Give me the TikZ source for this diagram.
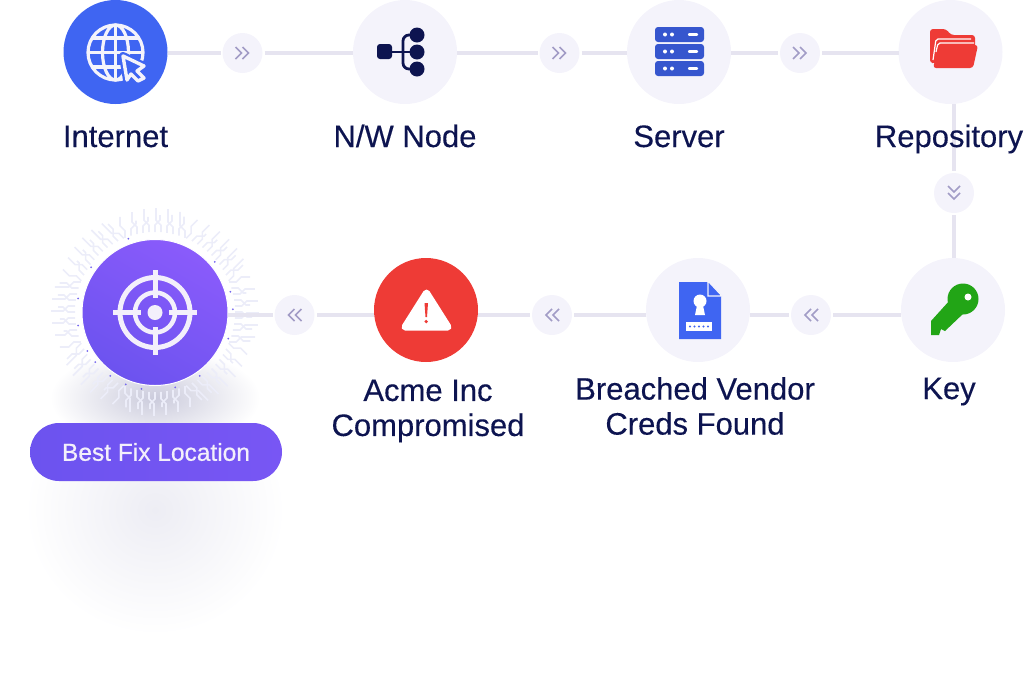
\documentclass[tikz,border=0pt]{standalone}
\usepackage{fontspec}
\setmainfont{Liberation Sans}
\newfontfamily\lblfont[FakeBold=0.3]{Liberation Sans}
\newfontfamily\fixfont[FakeBold=0.7]{Liberation Sans}
\usetikzlibrary{shapes.misc}
\definecolor{inkblue}{HTML}{0D1450}
\definecolor{railgrey}{HTML}{E6E4F0}
\definecolor{discfill}{HTML}{F4F3FB}
\definecolor{chevgrey}{HTML}{A29CC6}
\definecolor{netblue}{HTML}{3F65F2}
\definecolor{alertred}{HTML}{EE3B36}
\definecolor{keygreen}{HTML}{22A516}
\definecolor{fixhi}{HTML}{8A5BFB}
\definecolor{fixlo}{HTML}{6C53EF}
\definecolor{paper}{HTML}{F3EFFB}
\definecolor{traceline}{HTML}{ECEDF9}
\definecolor{hazegrey}{HTML}{EDEDF4}
\definecolor{shadowgrey}{HTML}{CBCBDC}
\definecolor{sparkblue}{HTML}{7668EE}
\tikzset{
  disc/.style={draw=none,circle,minimum size=104pt,inner sep=0pt,outer sep=0pt,fill=discfill},
  hop/.style={draw=none,circle,minimum size=40pt,inner sep=0pt,outer sep=2pt,fill=discfill},
  lbl/.style={font=\lblfont\fontsize{31}{35}\selectfont,text=inkblue,inner sep=0pt,align=center},
  rail/.style={draw=railgrey,line width=4pt},
  chev/.style={draw=chevgrey,line width=1.6pt,fill=none},
  trace/.style={draw=traceline,line width=1.6pt},
}
\begin{document}
\begin{tikzpicture}[x=1pt,y=-1pt]
  \useasboundingbox (0,0) rectangle (1024,673);

  \shade[inner color=hazegrey,outer color=white] (155,510) ellipse (130 and 125);
  \shade[inner color=shadowgrey,outer color=white] (155,398) ellipse (105 and 50);
  \foreach \a in {0,45,...,315}{
    \begin{scope}[shift={(155,312)},rotate=\a]
      \foreach \j [count=\i] in {-30,-24,...,30}{
        \pgfmathsetmacro{\xa}{sqrt(6400-\j*\j)}
        \pgfmathsetmacro{\sgn}{ifthenelse(mod(\i,2)==0,1,-1)}
        \pgfmathsetmacro{\len}{14+mod(\i*7,13)}
        \draw[trace] (\xa,\j) -- +(7,0) -- +(12,5*\sgn) -- +(\len,5*\sgn);
      }
    \end{scope}
  }
  \foreach \a in {20,55,75,100,112,125,140,150,170,190,215,250,320,345,358}{
    \fill[sparkblue] (155,312) ++(\a:78) circle (1);
  }

  \node[disc,fill=netblue] (internet) at (115.5,52) {};
  \node[disc] (nwnode) at (405,52) {};
  \node[disc] (server) at (679,52) {};
  \node[disc] (repo) at (950.5,52) {};
  \node[disc] (key) at (953,310) {};
  \node[disc] (vendor) at (698,310) {};
  \node[disc,fill=alertred] (acme) at (426,310) {};
  \node[circle,draw=white,line width=1pt,top color=fixhi,bottom color=fixlo,shading angle=-30,minimum size=146pt,inner sep=0pt,outer sep=0pt] (target) at (155,312.5) {};
  \node[rounded rectangle,left color=fixlo,middle color=fixhi,right color=fixlo!60!fixhi,minimum width=252pt,minimum height=58pt,inner sep=0pt,text=paper,font=\fixfont\fontsize{24.5}{28}\selectfont] (fix) at (156,452) {Best Fix Location};

  \node[hop] (hopa) at (242.5,53) {};
  \node[hop] (hopb) at (559.5,53) {};
  \node[hop] (hopc) at (800,53) {};
  \node[hop] (hopd) at (954,193) {};
  \node[hop] (hope) at (811,315) {};
  \node[hop] (hopf) at (552,315) {};
  \node[hop] (hopg) at (294.5,315) {};

  \path [rail] (internet.east |- hopa) edge (hopa);
  \path [rail] (hopa) edge (nwnode.west |- hopa);
  \path [rail] (nwnode.east |- hopb) edge (hopb);
  \path [rail] (hopb) edge (server.west |- hopb);
  \path [rail] (server.east |- hopc) edge (hopc);
  \path [rail] (hopc) edge (repo.west |- hopc);
  \path [rail] (repo.south -| hopd) edge (hopd);
  \path [rail] (hopd) edge (key.north -| hopd);
  \path [rail] (key.west |- hope) edge (hope);
  \path [rail] (hope) edge (vendor.east |- hope);
  \path [rail] (vendor.west |- hopf) edge (hopf);
  \path [rail] (hopf) edge (acme.east |- hopf);
  \path [rail] (acme.west |- hopg) edge (hopg);
  \path [rail] (hopg) edge (target.east |- hopg);

  \foreach \h in {hopa,hopb,hopc}{
    \draw[chev] ([xshift=-7pt,yshift=6pt]\h.center) -- +(6,6) -- +(0,12);
    \draw[chev] ([xshift=0pt,yshift=6pt]\h.center) -- +(6,6) -- +(0,12);
  }
  \foreach \h in {hope,hopf,hopg}{
    \draw[chev] ([xshift=0pt,yshift=6pt]\h.center) -- +(-6,6) -- +(0,12);
    \draw[chev] ([xshift=7pt,yshift=6pt]\h.center) -- +(-6,6) -- +(0,12);
  }
  \draw[chev] ([xshift=-6pt,yshift=7pt]hopd.center) -- +(6,6) -- +(12,0);
  \draw[chev] ([xshift=-6pt,yshift=0pt]hopd.center) -- +(6,6) -- +(12,0);

  \node[lbl,anchor=base] (internetlbl) at (115.5,147) {Internet};
  \node[lbl,anchor=base] (nwnodelbl) at (405,147) {N/W Node};
  \node[lbl,anchor=base] (serverlbl) at (679,147) {Server};
  \node[lbl,anchor=base] (repolbl) at (949,147) {Repository};
  \node[lbl] (acmelbl) at (428,411) {Acme Inc\\Compromised};
  \node[lbl] (vendorlbl) at (695,406) {Breached Vendor\\Creds Found};
  \node[lbl,anchor=base] (keylbl) at (949,399) {Key};

  \begin{scope}[draw=discfill,line width=3.2pt]
    \draw (115.5,52.5) circle (27.5);
    \draw (115.5,25) -- (115.5,80);
    \draw (115.5,52.5) ellipse (13 and 27.5);
    \draw (88,52.5) -- (143,52.5);
    \draw (92,38) -- (139,38);
    \draw (92,67) -- (139,67);
  \end{scope}
  \draw[draw=netblue,line width=8pt,line join=round] (123,56) -- (144,66) -- (137,71) -- (144,78) -- (138,81) -- (131,74) -- (127,80) -- cycle;
  \draw[draw=discfill,fill=netblue,line width=3.4pt,line join=round] (123,56) -- (144,66) -- (137,71) -- (144,78) -- (138,81) -- (131,74) -- (127,80) -- cycle;

  \fill[inkblue,rounded corners=3pt] (377,44) rectangle (392,59);
  \fill[inkblue] (417,35) circle (7.5) (417,52) circle (7.5) (417,69) circle (7.5);
  \draw[inkblue,line width=2.6pt] (392,52) -- (417,52);
  \draw[inkblue,line width=2.8pt,rounded corners=6pt] (417,35) -- (403,35) -- (403,69) -- (417,69);

  \foreach \y in {27,44,61}{
    \fill[netblue!85!black,rounded corners=3pt] (655,\y) rectangle (704,\y+15);
    \fill[white] (665,\y+7.5) circle (2) (672,\y+7.5) circle (2);
    \draw[white,line width=2.4pt,line cap=round] (689,\y+7.5) -- (697,\y+7.5);
  }

  \fill[alertred,rounded corners=3pt] (930,29) -- (946,29) -- (951,35) -- (975,35) -- (975,50) -- (935,63) -- (930,63) -- cycle;
  \draw[white,line width=1.2pt,rounded corners=2pt] (933,60) -- (936,39) -- (971,39);
  \draw[white,line width=1.2pt,rounded corners=2pt] (936,52) -- (938,43) -- (974,43);
  \fill[alertred,rounded corners=3pt] (939,45) -- (978,45) -- (973,68) -- (933,68) -- cycle;

  \fill[white,draw=white,line width=7pt,line join=round] (426.5,293) -- (448,327) -- (405,327) -- cycle;
  \fill[alertred] (424.5,303) -- (428,303) -- (427,317) -- (425.5,317) -- cycle;
  \fill[alertred] (426.2,321.5) circle (1.8);

  \fill[netblue] (679,282) -- (707,282) -- (721,296) -- (721,339) -- (679,339) -- cycle;
  \draw[discfill,fill=netblue,line width=1.2pt] (708,281) -- (722,296) -- (708,296) -- cycle;
  \fill[white] (700,301) circle (6.5) (697.5,303) -- (702.5,303) -- (705,315) -- (695,315) -- cycle;
  \fill[white] (686,322) rectangle (712,331);
  \foreach \x in {690,694.5,699,703.5,708}{
    \fill[netblue] (\x,326.5) circle (1.1);
  }

  \fill[keygreen] (963,299) circle (15.5);
  \fill[keygreen] (950,300) -- (965,312) -- (945,331) -- (941,329) -- (939,335) -- (931,335) -- (931,321) -- cycle;
  \fill[white] (968,297) circle (3.5);

  \begin{scope}[draw=paper]
    \draw[line width=5pt] (155,312.5) circle (35);
    \draw[line width=4.5pt] (155,312.5) circle (20);
    \fill[paper] (155,312.5) circle (7.5);
    \draw[line width=5pt] (155,270) -- (155,298);
    \draw[line width=5pt] (155,327) -- (155,355);
    \draw[line width=5pt] (113,312.5) -- (141,312.5);
    \draw[line width=5pt] (169,312.5) -- (197,312.5);
  \end{scope}
\end{tikzpicture}
\end{document}
